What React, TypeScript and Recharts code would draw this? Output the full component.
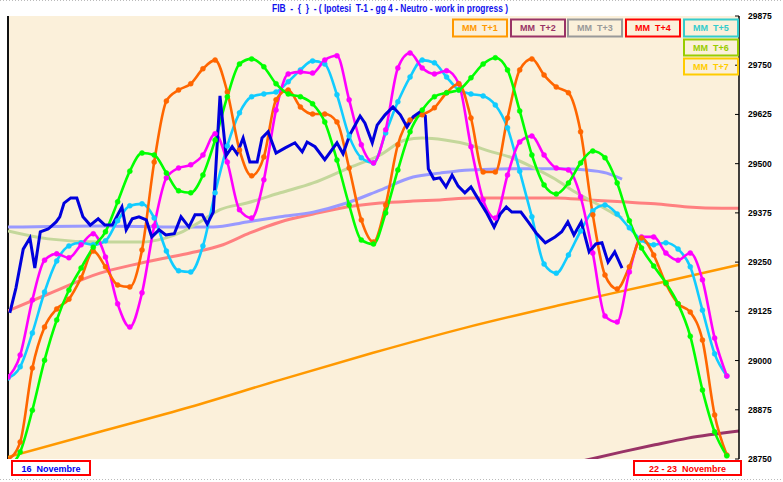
import React from 'react';
import { LineChart, Line, XAxis, YAxis } from 'recharts';

// shared time grid for the MM oscillators
const oscT = [0, 2, 4, 6, 8, 10, 12, 14, 16, 18, 20, 22, 24, 26, 28, 30, 32, 34, 36, 38, 40, 42, 44, 46, 48, 50, 52, 54, 56, 58, 60, 62, 64, 66, 68, 70, 72, 74, 76, 78, 80, 82, 84, 86, 88, 90, 92, 94, 96, 98, 100, 102, 104, 106, 108, 110, 112, 114, 116, 118];

const orangeOsc = [28748, 28793, 28981, 29085, 29131, 29156, 29210, 29278, 29238, 29192, 29187, 29281, 29504, 29659, 29687, 29703, 29741, 29763, 29682, 29535, 29469, 29517, 29662, 29687, 29644, 29626, 29626, 29606, 29489, 29357, 29301, 29395, 29548, 29611, 29624, 29642, 29680, 29703, 29616, 29479, 29479, 29616, 29738, 29766, 29725, 29695, 29680, 29581, 29370, 29217, 29182, 29238, 29311, 29268, 29195, 29144, 29123, 29052, 28862, 28760];
const greenOsc = [28730, 28768, 28874, 29001, 29103, 29179, 29235, 29288, 29327, 29403, 29481, 29527, 29522, 29476, 29431, 29426, 29471, 29560, 29670, 29753, 29766, 29746, 29703, 29677, 29670, 29652, 29606, 29509, 29395, 29306, 29296, 29375, 29484, 29581, 29636, 29670, 29680, 29687, 29718, 29753, 29769, 29738, 29634, 29522, 29446, 29423, 29451, 29502, 29532, 29515, 29451, 29355, 29286, 29240, 29197, 29144, 29062, 28925, 28819, 28758];
const magentaOsc = [28958, 29014, 29154, 29255, 29271, 29261, 29294, 29322, 29263, 29144, 29085, 29172, 29342, 29464, 29489, 29497, 29522, 29576, 29504, 29383, 29362, 29459, 29636, 29728, 29733, 29730, 29763, 29774, 29662, 29548, 29502, 29586, 29743, 29781, 29743, 29728, 29736, 29703, 29543, 29408, 29362, 29471, 29555, 29570, 29522, 29489, 29484, 29416, 29273, 29113, 29098, 29225, 29314, 29314, 29273, 29255, 29273, 29205, 29057, 28961];
const cyanOsc = [28956, 28984, 29070, 29174, 29253, 29291, 29299, 29294, 29304, 29355, 29393, 29398, 29362, 29278, 29228, 29225, 29291, 29426, 29545, 29629, 29670, 29677, 29682, 29708, 29738, 29761, 29753, 29675, 29570, 29515, 29502, 29578, 29657, 29720, 29763, 29756, 29720, 29687, 29677, 29672, 29649, 29591, 29481, 29365, 29245, 29222, 29268, 29329, 29380, 29395, 29372, 29337, 29306, 29294, 29299, 29283, 29238, 29128, 29017, 28961];

// price (blue)
const priceT = [0.3, 1.3, 2.5, 3.6, 4.4, 5.3, 6.6, 7.9, 8.5, 9.2, 10.3, 11.3, 12.3, 13.5, 14.8, 15.9, 17.1, 18.7, 19.4, 20.4, 21.5, 22.7, 23.6, 24.8, 25.9, 27.3, 28.4, 29.7, 30.7, 31.9, 32.7, 33.7, 34.8, 35.8, 36.8, 37.6, 38.6, 39.7, 40.9, 41.7, 42.7, 44.0, 45.5, 47.1, 48.3, 49.1, 50.4, 52.0, 54.0, 55.0, 56.1, 57.8, 58.6, 59.8, 60.6, 61.9, 63.2, 64.4, 65.5, 66.5, 67.6, 68.5, 69.0, 69.9, 70.9, 71.9, 72.9, 73.9, 75.0, 76.0, 77.2, 78.5, 79.8, 80.8, 81.8, 82.7, 84.2, 85.4, 86.7, 88.2, 89.8, 90.9, 91.9, 92.9, 94.1, 95.4, 96.5, 97.5, 98.5, 99.6, 100.8];
const priceV = [29121, 29184, 29283, 29311, 29235, 29327, 29334, 29352, 29365, 29400, 29413, 29413, 29365, 29344, 29360, 29344, 29344, 29390, 29332, 29360, 29365, 29357, 29314, 29332, 29319, 29322, 29365, 29339, 29370, 29370, 29347, 29377, 29672, 29520, 29543, 29525, 29565, 29504, 29504, 29565, 29581, 29527, 29540, 29553, 29530, 29555, 29543, 29510, 29553, 29525, 29573, 29621, 29603, 29553, 29598, 29624, 29644, 29624, 29593, 29619, 29631, 29621, 29487, 29461, 29464, 29441, 29471, 29443, 29426, 29441, 29410, 29377, 29339, 29372, 29390, 29377, 29377, 29352, 29324, 29299, 29314, 29327, 29352, 29319, 29352, 29276, 29296, 29299, 29250, 29276, 29235];

// moving averages
const lavT = [0, 15.1, 28.2, 33.7, 39.2, 44.7, 50.1, 55.6, 61.1, 66.5, 70.9, 75.8, 84.0, 90.6, 95.0, 98.3, 100.8];
const lavV = [29339, 29342, 29339, 29339, 29352, 29365, 29377, 29400, 29433, 29466, 29476, 29484, 29487, 29487, 29484, 29476, 29461];
const sageT = [0, 6.6, 15.1, 21.8, 25.8, 28.2, 31.5, 34.8, 39.2, 44.7, 50.1, 55.6, 61.1, 65.2, 68.0, 71.7, 75.7, 79.0, 82.7, 86.0, 89.8, 93.1, 96.4, 99.2, 100.8];
const sageV = [29329, 29309, 29301, 29301, 29311, 29324, 29352, 29383, 29400, 29426, 29451, 29487, 29522, 29560, 29565, 29560, 29548, 29532, 29515, 29492, 29461, 29428, 29400, 29375, 29362];
const salmonT = [0, 6.6, 15.1, 20.5, 25.0, 29.9, 35.3, 39.7, 44.7, 50.1, 55.6, 61.1, 66.5, 70.9, 76.2, 81.6, 90.1, 95.2, 100.8, 106.2, 111.6, 117.2, 120];
const salmonV = [29126, 29169, 29222, 29243, 29258, 29273, 29294, 29324, 29352, 29372, 29390, 29400, 29405, 29408, 29413, 29413, 29413, 29408, 29403, 29398, 29390, 29387, 29387];
const trendT = [0, 15.1, 29.9, 44.7, 59.8, 75.0, 90.1, 105.4, 120];
const trendV = [28755, 28819, 28882, 28951, 29019, 29083, 29139, 29192, 29243];
const purpleT = [90.6, 100.8, 106.2, 111.6, 120];
const purpleV = [28732, 28768, 28786, 28803, 28821];

const yTicks = [28750, 28875, 29000, 29125, 29250, 29375, 29500, 29625, 29750, 29875];

const legendLabels = ['MM  T+1', 'MM  T+2', 'MM  T+3', 'MM  T+4', 'MM  T+5', 'MM  T+6', 'MM  T+7'];
const legendColors = ['#FF9900', '#993366', '#999999', '#FF0000', '#33CCCC', '#99CC00', '#FFCC00'];

const titleText = 'FIB  -  {  }  - ( Ipotesi  T-1 - gg 4 - Neutro - work in progress )';
const startLabel = '16  Novembre';
const endLabel = '22 - 23  Novembre';

const mk = (ts: number[], vs: number[]) => ts.map((t, i) => ({ t, v: vs[i] }));

const FONT = 'Arial, "Liberation Sans", sans-serif';

const RightTick = (props: any) => {
  const { x, y, payload } = props;
  return (
    <g>
      <line x1={x - 4} x2={x} y1={y} y2={y} stroke="#000" strokeWidth={1} />
      <text x={x + 9} y={y} dy={3} fontSize={8.5} fontWeight="bold" fontFamily={FONT} fill="#000">
        {payload.value}
      </text>
    </g>
  );
};

const oscDot = (c: string) => ({ r: 2.5, fill: c, stroke: c, strokeWidth: 0.5 });

export default function App() {
  const legendPos = [
    { x: 453, y: 19.5, w: 54, h: 17 },
    { x: 511, y: 19.5, w: 54, h: 17 },
    { x: 568, y: 19.5, w: 54, h: 17 },
    { x: 626, y: 19.5, w: 54, h: 17 },
    { x: 684, y: 19.5, w: 54, h: 17 },
    { x: 684, y: 39.5, w: 54, h: 16 },
    { x: 684, y: 58.5, w: 54, h: 16 },
  ];
  return (
    <div style={{ position: 'absolute', left: 0, top: 0, width: 783, height: 482, background: '#fff', overflow: 'hidden' }}>
      <div style={{ position: 'absolute', left: 7, top: 16, width: 732, height: 443, background: '#FBF0DA', borderLeft: '2px solid #111', boxSizing: 'border-box' }} />
      <div style={{ position: 'absolute', left: 0, top: 0 }}>
        <LineChart width={783} height={482} margin={{ top: 16, right: 0, bottom: 23, left: 8 }}>
          <XAxis type="number" dataKey="t" domain={[0, 120]} allowDataOverflow tick={false} tickLine={false} axisLine={{ stroke: '#555', strokeWidth: 1 }} height={0} />
          <YAxis
            orientation="right"
            domain={[28750, 29875]}
            ticks={yTicks}
            allowDataOverflow
            width={44}
            tickSize={0}
            tickMargin={0}
            tickLine={false}
            axisLine={{ stroke: '#000', strokeWidth: 1.5 }}
            tick={<RightTick />}
            interval={0}
          />
          <Line data={mk(trendT, trendV)} dataKey="v" type="monotone" stroke="#FF9900" strokeWidth={2.5} dot={false} isAnimationActive={false} />
          <Line data={mk(purpleT, purpleV)} dataKey="v" type="monotone" stroke="#993366" strokeWidth={3} dot={false} isAnimationActive={false} />
          <Line data={mk(salmonT, salmonV)} dataKey="v" type="monotone" stroke="#FF8080" strokeWidth={3} dot={false} isAnimationActive={false} />
          <Line data={mk(lavT, lavV)} dataKey="v" type="monotone" stroke="#9999FF" strokeWidth={3} dot={false} isAnimationActive={false} />
          <Line data={mk(sageT, sageV)} dataKey="v" type="monotone" stroke="#C4D79B" strokeWidth={3} dot={false} isAnimationActive={false} />
          <Line data={mk(oscT, cyanOsc)} dataKey="v" type="monotone" stroke="#11CCFF" strokeWidth={2.6} dot={oscDot('#11CCFF')} isAnimationActive={false} />
          <Line data={mk(oscT, magentaOsc)} dataKey="v" type="monotone" stroke="#FF00FF" strokeWidth={2.6} dot={oscDot('#FF00FF')} isAnimationActive={false} />
          <Line data={mk(oscT, orangeOsc)} dataKey="v" type="monotone" stroke="#FF6600" strokeWidth={2.6} dot={oscDot('#FF6600')} isAnimationActive={false} />
          <Line data={mk(oscT, greenOsc)} dataKey="v" type="monotone" stroke="#00FF00" strokeWidth={2.6} dot={oscDot('#00FF00')} isAnimationActive={false} />
          <Line data={mk(priceT, priceV)} dataKey="v" type="linear" stroke="#0000DD" strokeWidth={3} dot={false} isAnimationActive={false} />
        </LineChart>
      </div>
      <svg width={783} height={482} style={{ position: 'absolute', left: 0, top: 0, pointerEvents: 'none' }}>
        <line x1={0} x2={783} y1={0.5} y2={0.5} stroke="#bbbbbb" strokeDasharray="1 2" />
        <line x1={0} x2={783} y1={479.5} y2={479.5} stroke="#bbbbbb" strokeDasharray="1 2" />
        <text x={390} y={12} textAnchor="middle" fontSize={10} fontWeight="bold" fontFamily={FONT} fill="#1010EE" style={{ whiteSpace: 'pre' }} textLength={236} lengthAdjust="spacingAndGlyphs">
          {titleText}
        </text>
        {legendLabels.map((lab, i) => {
          const p = legendPos[i];
          return (
            <g key={lab}>
              <rect x={p.x} y={p.y} width={p.w} height={p.h} fill="none" stroke={legendColors[i]} strokeWidth={2} />
              <text x={p.x + p.w / 2} y={p.y + p.h / 2 + 3.2} textAnchor="middle" fontSize={9} fontWeight="bold" fontFamily={FONT} fill={legendColors[i]} style={{ whiteSpace: 'pre' }}>
                {lab}
              </text>
            </g>
          );
        })}
        <rect x={12} y={461} width={78} height={14} fill="#fff" stroke="#FF0000" strokeWidth={2} />
        <text x={51} y={471.5} textAnchor="middle" fontSize={9} fontWeight="bold" fontFamily={FONT} fill="#0000EE" style={{ whiteSpace: 'pre' }}>
          {startLabel}
        </text>
        <rect x={634} y={461} width={107} height={14} fill="#fff" stroke="#FF0000" strokeWidth={2} />
        <text x={687.5} y={471.5} textAnchor="middle" fontSize={9} fontWeight="bold" fontFamily={FONT} fill="#FF0000" style={{ whiteSpace: 'pre' }}>
          {endLabel}
        </text>
      </svg>
    </div>
  );
}
